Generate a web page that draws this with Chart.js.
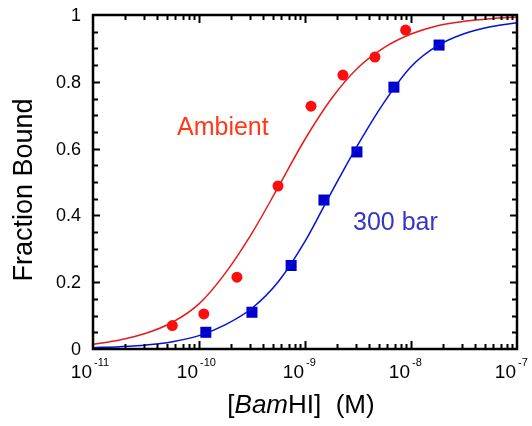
<!DOCTYPE html>
<html>
<head>
<meta charset="utf-8">
<script src="https://cdn.jsdelivr.net/npm/chart.js@4"></script>
<style>
  body { margin: 0; background: #fff; }
  canvas { display: block; }
</style>
</head>
<body>
<canvas id="bindingChart" width="532" height="426"></canvas>
<script>
// measured points
const ambientX = [5.6e-11, 1.11e-10, 2.28e-10, 5.56e-10, 1.14e-9, 2.28e-9, 4.57e-9, 8.9e-9];
const ambientY = [0.07, 0.105, 0.215, 0.488, 0.727, 0.82, 0.874, 0.955];
const barX = [1.16e-10, 3.16e-10, 7.4e-10, 1.51e-9, 3.09e-9, 6.9e-9, 1.84e-8];
const barY = [0.05, 0.11, 0.25, 0.446, 0.59, 0.784, 0.91];

const curveX = [1e-11, 1.78e-11, 3.16e-11, 5.62e-11, 1e-10, 1.78e-10, 3.16e-10, 5.62e-10,
    1e-9, 1.78e-9, 3.16e-9, 5.62e-9, 1e-8, 1.78e-8, 3.16e-8, 5.62e-8, 1e-7];
const ambientFit = [0.014, 0.027, 0.047, 0.08, 0.135, 0.228, 0.347, 0.486,
    0.628, 0.75, 0.842, 0.903, 0.943, 0.968, 0.981, 0.989, 0.994];
const barFit = [0.004, 0.007, 0.012, 0.022, 0.04, 0.073, 0.122, 0.202,
    0.322, 0.47, 0.612, 0.74, 0.845, 0.908, 0.944, 0.965, 0.977];

const yTicks = [0, 0.2, 0.4, 0.6, 0.8, 1];
const xDecades = [-11, -10, -9, -8, -7];

const FONT = '"Liberation Sans", Arial, Helvetica, sans-serif';

const toPts = (xs, ys) => xs.map((x, i) => ({ x: x, y: ys[i] }));

const axesPlugin = {
    id: 'axesPlugin',
    afterDraw(chart) {
        const ctx = chart.ctx;
        const xs = chart.scales.x, ys = chart.scales.y;
        const a = chart.chartArea;
        ctx.save();
        ctx.strokeStyle = '#000';
        ctx.fillStyle = '#000';

        // y ticks, both sides, inward
        ctx.lineWidth = 2;
        for (let k = 1; k < 20; k++) {
            const v = k * 0.05;
            const py = Math.round(ys.getPixelForValue(v)) + 0.5;
            const len = (k % 4 === 0) ? 7 : 5;
            ctx.beginPath();
            ctx.moveTo(a.left, py); ctx.lineTo(a.left + len, py);
            ctx.moveTo(a.right, py); ctx.lineTo(a.right - len, py);
            ctx.stroke();
        }

        // x ticks, top and bottom, inward
        for (let d = -11; d < -7; d++) {
            for (let m = 1; m <= 9; m++) {
                if (m === 1 && d === -11) continue;
                const px = Math.round(xs.getPixelForValue(m * Math.pow(10, d))) + 0.5;
                const len = m === 1 ? 8 : 5;
                ctx.beginPath();
                ctx.moveTo(px, a.bottom); ctx.lineTo(px, a.bottom - len);
                ctx.moveTo(px, a.top); ctx.lineTo(px, a.top + len);
                ctx.stroke();
            }
        }

        // frame
        ctx.lineWidth = 2.5;
        ctx.strokeRect(a.left, a.top, a.right - a.left, a.bottom - a.top);

        // y tick labels
        ctx.font = '18px ' + FONT;
        ctx.textAlign = 'right';
        ctx.textBaseline = 'middle';
        yTicks.forEach(v => {
            ctx.fillText(String(v), a.left - 12, ys.getPixelForValue(v) + 1);
        });

        // x tick labels 10^n
        ctx.textBaseline = 'alphabetic';
        xDecades.forEach(d => {
            const px = xs.getPixelForValue(Math.pow(10, d));
            ctx.font = '19px ' + FONT;
            ctx.textAlign = 'right';
            ctx.fillText('10', px - 1, 378);
            ctx.font = '11px ' + FONT;
            ctx.textAlign = 'left';
            ctx.fillText(String(d), px + 1, 366);
        });

        // y title
        ctx.save();
        ctx.translate(32, 190);
        ctx.rotate(-Math.PI / 2);
        ctx.font = '27px ' + FONT;
        ctx.textAlign = 'center';
        ctx.fillText('Fraction Bound', 0, 0);
        ctx.restore();

        // x title: [BamHI]  (M)
        const parts = [['[', ''], ['Bam', 'italic '], ['HI]  (M)', '']];
        let total = 0;
        parts.forEach(p => { ctx.font = p[1] + '26px ' + FONT; total += ctx.measureText(p[0]).width; });
        let cx = 301 - total / 2;
        ctx.textAlign = 'left';
        parts.forEach(p => {
            ctx.font = p[1] + '26px ' + FONT;
            ctx.fillText(p[0], cx, 413);
            cx += ctx.measureText(p[0]).width;
        });

        // series labels
        ctx.font = '25px ' + FONT;
        ctx.fillStyle = '#ff3a1a';
        ctx.fillText('Ambient', 177, 135);
        ctx.fillStyle = '#3535c8';
        ctx.fillText('300 bar', 353, 230);
        ctx.restore();
    }
};

new Chart(document.getElementById('bindingChart').getContext('2d'), {
    type: 'scatter',
    data: {
        datasets: [
            {
                label: 'Ambient fit',
                data: toPts(curveX, ambientFit),
                showLine: true,
                borderColor: '#e8191a',
                borderWidth: 1.5,
                pointRadius: 0,
                cubicInterpolationMode: 'monotone'
            },
            {
                label: '300 bar fit',
                data: toPts(curveX, barFit),
                showLine: true,
                borderColor: '#0010dd',
                borderWidth: 1.5,
                pointRadius: 0,
                cubicInterpolationMode: 'monotone'
            },
            {
                label: 'Ambient',
                data: toPts(ambientX, ambientY),
                pointStyle: 'circle',
                pointRadius: 5.5,
                backgroundColor: '#ff0d0d',
                borderWidth: 0
            },
            {
                label: '300 bar',
                data: toPts(barX, barY),
                pointStyle: 'rect',
                pointRadius: 7.8,
                backgroundColor: '#0000cc',
                borderWidth: 0
            }
        ]
    },
    options: {
        responsive: false,
        animation: false,
        layout: { padding: { left: 93, right: 15, top: 15, bottom: 77 } },
        plugins: { legend: { display: false }, tooltip: { enabled: false } },
        scales: {
            x: { type: 'logarithmic', min: 1e-11, max: 1e-7, display: false },
            y: { type: 'linear', min: 0, max: 1, display: false }
        }
    },
    plugins: [axesPlugin]
});
</script>
</body>
</html>
